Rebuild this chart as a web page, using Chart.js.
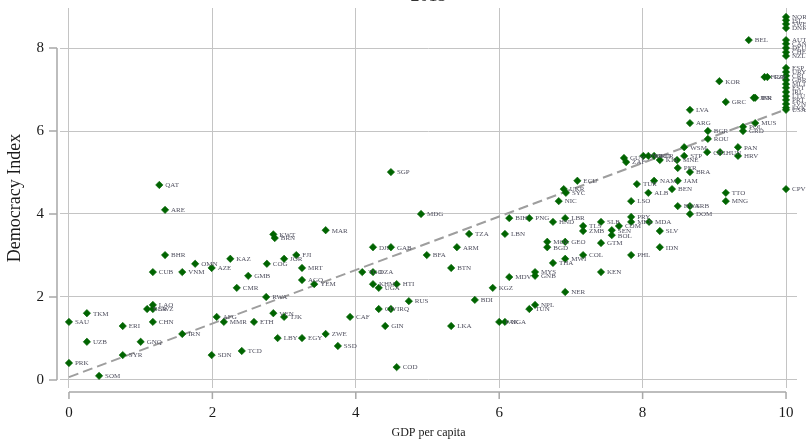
<!DOCTYPE html>
<html>
<head>
<meta charset="utf-8">
<title>Democracy Index vs GDP per capita</title>
<script src="https://cdn.jsdelivr.net/npm/chart.js@4.4.1/dist/chart.umd.min.js"></script>
<style>
  html, body { margin: 0; padding: 0; background: #ffffff; }
  #wrap { width: 806px; height: 440px; }
</style>
</head>
<body>
<div id="wrap"><canvas id="scatter-chart"></canvas></div>
<script>
// country codes, GDP per capita score, Democracy Index (same order)
var countries = [
  "SAU", "TKM", "ERI", "LAO", "BLR", "SWZ", "CHN", "UZB", "GNQ", "IRN",
  "SYR", "PRK", "SOM", "SDN", "TCD", "AFG", "MMR", "ETH", "CMR", "RWA",
  "QAT", "ARE", "BHR", "OMN", "KAZ", "AZE", "CUB", "VNM", "GMB", "COG",
  "JOR", "KWT", "BRN", "FJI", "MRT", "AGO", "YEM", "MAR", "SGP", "MDG",
  "DJI", "GAB", "BFA", "TZA", "ARM", "BTN", "BIH", "PNG", "LBN", "MDV",
  "KGZ", "TGO", "DZA", "KHM", "HTI", "UGA", "RUS", "BDI", "CAF", "CIV",
  "IRQ", "GIN", "LKA", "COD", "ZWE", "SSD", "LBY", "EGY", "TJK", "VEN",
  "PAK", "NGA", "HND", "LBR", "NIC", "LSO", "MOZ", "BGD", "GEO", "TLS",
  "ZMB", "SLB", "COM", "PRY", "MEX", "MDA", "SEN", "BOL", "GTM", "COL",
  "PHL", "MWI", "THA", "MYS", "GNB", "KEN", "NER", "NPL", "TUN", "UKR",
  "SYC", "ECU", "TUR", "NAM", "JAM", "ALB", "BEN", "BRA", "PER", "TTO",
  "MNG", "CPV", "BWA", "SRB", "DOM", "SLV", "IDN", "GUY", "ZAF", "IND",
  "MKD", "SUR", "KIR", "MNE", "STP", "WSM", "CHL", "HUN", "PAN", "HRV",
  "LVA", "ARG", "BGR", "ROU", "POL", "GRD", "MUS", "GRC", "KOR", "BEL",
  "CZE", "FRA", "ISR", "JPN", "USA", "NOR", "ISL", "SWE", "DNK", "AUT",
  "CAN", "DEU", "CHE", "NZL", "ESP", "URY", "CRI", "GBR", "MLT", "EST",
  "IRL", "LTU", "PRT", "SVN", "SVK"
];
var gdp = [
  0.00, 0.25, 0.75, 1.17, 1.09, 1.17, 1.17, 0.25, 1.00, 1.58,
  0.75, 0.00, 0.42, 1.99, 2.41, 2.06, 2.16, 2.58, 2.34, 2.75,
  1.26, 1.34, 1.34, 1.76, 2.25, 1.99, 1.17, 1.58, 2.50, 2.76,
  3.00, 2.85, 2.87, 3.17, 3.25, 3.25, 3.42, 3.58, 4.49, 4.91,
  4.24, 4.49, 4.99, 5.58, 5.41, 5.33, 6.14, 6.42, 6.08, 6.14,
  5.91, 4.09, 4.24, 4.24, 4.57, 4.32, 4.74, 5.66, 3.92, 4.32,
  4.49, 4.41, 5.33, 4.57, 3.58, 3.75, 2.91, 3.25, 3.00, 2.85,
  6.00, 6.08, 6.75, 6.92, 6.83, 7.84, 6.67, 6.67, 6.92, 7.17,
  7.17, 7.42, 7.67, 7.84, 7.84, 8.09, 7.57, 7.57, 7.42, 7.17,
  7.84, 6.92, 6.75, 6.50, 6.50, 7.42, 6.92, 6.50, 6.42, 6.90,
  6.93, 7.09, 7.92, 8.16, 8.49, 8.08, 8.41, 8.66, 8.49, 9.16,
  9.16, 10.0, 8.49, 8.66, 8.66, 8.24, 8.24, 7.74, 7.77, 8.01,
  8.08, 8.16, 8.24, 8.48, 8.58, 8.58, 8.90, 9.08, 9.33, 9.33,
  8.66, 8.66, 8.91, 8.91, 9.40, 9.40, 9.57, 9.16, 9.07, 9.48,
  9.74, 9.70, 9.57, 9.55, 10.0, 10.0, 10.0, 10.0, 10.0, 10.0,
  10.0, 10.0, 10.0, 10.0, 10.0, 10.0, 10.0, 10.0, 10.0, 10.0,
  10.0, 10.0, 10.0, 10.0, 10.0
];
var democracy = [
  1.40, 1.61, 1.30, 1.81, 1.71, 1.71, 1.40, 0.92, 0.92, 1.11,
  0.60, 0.41, 0.10, 0.60, 0.70, 1.52, 1.40, 1.40, 2.22, 2.00,
  4.70, 4.10, 3.01, 2.80, 2.92, 2.70, 2.60, 2.60, 2.51, 2.80,
  2.92, 3.51, 3.42, 3.01, 2.70, 2.41, 2.31, 3.61, 5.01, 4.00,
  3.20, 3.20, 3.01, 3.52, 3.20, 2.70, 3.90, 3.90, 3.52, 2.48,
  2.22, 2.60, 2.60, 2.31, 2.31, 2.22, 1.90, 1.93, 1.52, 1.71,
  1.71, 1.30, 1.30, 0.31, 1.11, 0.82, 1.01, 1.01, 1.52, 1.61,
  1.40, 1.40, 3.81, 3.90, 4.31, 4.31, 3.33, 3.20, 3.33, 3.71,
  3.59, 3.81, 3.71, 3.93, 3.81, 3.81, 3.61, 3.49, 3.30, 3.01,
  3.01, 2.92, 2.82, 2.60, 2.51, 2.60, 2.12, 1.81, 1.71, 4.60,
  4.51, 4.80, 4.72, 4.80, 4.80, 4.51, 4.60, 5.01, 5.11, 4.51,
  4.31, 4.60, 4.19, 4.19, 4.00, 3.59, 3.20, 5.35, 5.25, 5.40,
  5.40, 5.40, 5.30, 5.30, 5.40, 5.61, 5.49, 5.49, 5.61, 5.40,
  6.51, 6.19, 6.00, 5.81, 6.10, 6.00, 6.19, 6.70, 7.20, 8.19,
  7.30, 7.30, 6.80, 6.80, 6.51, 8.75, 8.67, 8.58, 8.48, 8.19,
  8.10, 8.00, 7.90, 7.81, 7.52, 7.42, 7.33, 7.23, 7.13, 7.04,
  6.94, 6.84, 6.75, 6.65, 6.56
];
// linear fit, drawn between its two end points
var fitX = [0, 10];
var fitY = [0.07, 6.52];
var xTicks = [0, 2, 4, 6, 8, 10];
var yTicks = [0, 2, 4, 6, 8];
var chartTitle = "2015";

var serif = '"Liberation Serif", "Times New Roman", serif';

var points = gdp.map(function (g, i) { return { x: g, y: democracy[i] }; });
var fitLine = fitX.map(function (v, i) { return { x: v, y: fitY[i] }; });

// country code next to each marker
var markerLabels = {
  id: 'markerLabels',
  afterDatasetsDraw: function (chart) {
    var ctx = chart.ctx;
    var meta = chart.getDatasetMeta(0);
    ctx.save();
    ctx.font = '7px ' + serif;
    ctx.fillStyle = '#50505f';
    ctx.textBaseline = 'middle';
    meta.data.forEach(function (pt, i) {
      ctx.fillText(countries[i], pt.x + 6, pt.y + 0.5);
    });
    ctx.restore();
  }
};

// stata style axis lines, set off from the plot region, and the clipped title
var stataAxes = {
  id: 'stataAxes',
  afterDraw: function (chart) {
    var ctx = chart.ctx;
    var xs = chart.scales.x, ys = chart.scales.y, area = chart.chartArea;
    var ax = area.left - 3, ay = area.bottom + 4;
    ctx.save();
    ctx.strokeStyle = '#a8a8a8';
    ctx.lineWidth = 1.5;
    ctx.beginPath();
    ctx.moveTo(ax, ys.getPixelForValue(yTicks[0]));
    ctx.lineTo(ax, ys.getPixelForValue(yTicks[yTicks.length - 1]));
    yTicks.forEach(function (v) {
      var p = ys.getPixelForValue(v);
      ctx.moveTo(ax - 8, p);
      ctx.lineTo(ax, p);
    });
    ctx.moveTo(xs.getPixelForValue(xTicks[0]), ay);
    ctx.lineTo(xs.getPixelForValue(xTicks[xTicks.length - 1]), ay);
    xTicks.forEach(function (v) {
      var p = xs.getPixelForValue(v);
      ctx.moveTo(p, ay);
      ctx.lineTo(p, ay + 7);
    });
    ctx.stroke();

    ctx.fillStyle = '#333333';
    ctx.font = '18px ' + serif;
    ctx.textAlign = 'center';
    ctx.textBaseline = 'alphabetic';
    ctx.fillText(chartTitle, (area.left + area.right) / 2, area.top - 7);
    ctx.restore();
  }
};

function noPadding(axis) {
  axis.paddingTop = 0;
  axis.paddingBottom = 0;
  axis.paddingLeft = 0;
  axis.paddingRight = 0;
}

new Chart(document.getElementById("scatter-chart"), {
  type: 'scatter',
  data: {
    datasets: [{
      label: 'Democracy Index',
      data: points,
      pointStyle: 'rectRot',
      pointRadius: 3.7,
      pointBorderWidth: 0.6,
      backgroundColor: '#006400',
      borderColor: '#006400',
      order: 1
    }, {
      type: 'line',
      label: 'Fitted values',
      data: fitLine,
      borderColor: '#9e9e9e',
      borderWidth: 2,
      borderDash: [10, 5],
      pointRadius: 0,
      fill: false,
      order: 2
    }]
  },
  options: {
    responsive: true,
    maintainAspectRatio: false,
    animation: false,
    layout: { padding: { left: 0, top: 8, right: 9, bottom: 0 } },
    plugins: {
      legend: { display: false },
      tooltip: { enabled: false },
      title: { display: false }
    },
    scales: {
      x: {
        type: 'linear',
        min: -0.125,
        max: 10.153,
        afterBuildTicks: function (axis) {
          axis.ticks = xTicks.map(function (v) { return { value: v }; });
        },
        afterFit: function (axis) { axis.height = 52; noPadding(axis); },
        border: { display: false },
        grid: { color: '#c4c4c4', lineWidth: 1, borderDash: [1, 3.5], drawTicks: false },
        ticks: { padding: 16, color: '#1a1a1a', font: { family: serif, size: 15 }, maxRotation: 0 },
        title: { display: true, text: 'GDP per capita', color: '#1a1a1a', font: { family: serif, size: 12 }, padding: 0 }
      },
      y: {
        type: 'linear',
        min: -0.193,
        max: 8.964,
        afterBuildTicks: function (axis) {
          axis.ticks = yTicks.map(function (v) { return { value: v }; });
        },
        afterFit: function (axis) { axis.width = 60; noPadding(axis); },
        border: { display: false },
        grid: { color: '#c4c4c4', lineWidth: 1, borderDash: [1, 3.5], drawTicks: false },
        ticks: { padding: 16, color: '#1a1a1a', font: { family: serif, size: 15 } },
        title: { display: true, text: 'Democracy Index', color: '#1a1a1a', font: { family: serif, size: 18 }, padding: { top: 4, bottom: 0 } }
      }
    }
  },
  plugins: [markerLabels, stataAxes]
});
</script>
</body>
</html>
